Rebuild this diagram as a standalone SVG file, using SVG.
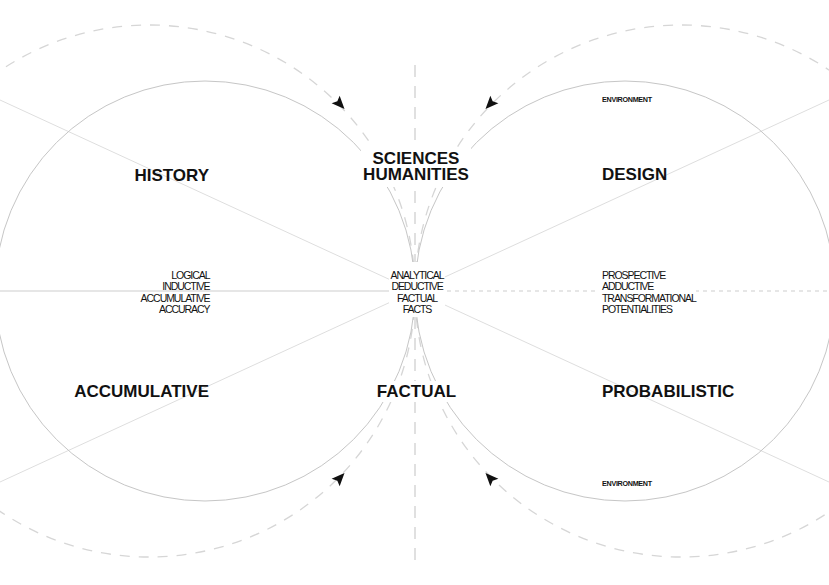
<svg xmlns="http://www.w3.org/2000/svg" width="829" height="585" viewBox="0 0 829 585">
<style>
text{font-family:"Liberation Sans",Arial,Helvetica,sans-serif;fill:#111}
.big{font-size:17px;font-weight:bold}
.small{font-size:10.5px;letter-spacing:-1.05px}
.env{font-size:7.2px;font-weight:bold;letter-spacing:-0.3px}
.solid{fill:none;stroke:#c6c6c6;stroke-width:1}
.diag{fill:none;stroke:#dedede;stroke-width:1}
.hline{fill:none;stroke:#cdcdcd;stroke-width:1.2}
.hdash{fill:none;stroke:#cdcdcd;stroke-width:1.2;stroke-dasharray:4 4}
.dcirc{fill:none;stroke:#d6d6d6;stroke-width:1.3;stroke-dasharray:10 9}
.vdash{fill:none;stroke:#d6d6d6;stroke-width:1.5;stroke-dasharray:12 9}
.mask{fill:#fff}
.arrow{fill:#111}
</style>
<defs>
<path id="arrowhead" d="M0,0 L-13,-5.5 L-10.5,0 L-13,5.5 Z"/>
</defs>
<rect width="829" height="585" fill="#fff"/>
<g id="connectors">
<line class="diag" x1="0" y1="100" x2="829" y2="482"/>
<line class="diag" x1="0" y1="482" x2="829" y2="100"/>
<line class="hline" x1="0" y1="291" x2="415" y2="291"/>
<line class="hdash" x1="415" y1="291" x2="829" y2="291"/>
<circle class="dcirc" cx="149" cy="291" r="266"/>
<circle class="dcirc" cx="681" cy="291" r="266"/>
<line class="vdash" x1="415" y1="65" x2="415" y2="563"/>
<use href="#arrowhead" class="arrow" transform="translate(344.5,109) rotate(47)"/>
<use href="#arrowhead" class="arrow" transform="translate(485.5,109) rotate(133)"/>
<use href="#arrowhead" class="arrow" transform="translate(344.5,473) rotate(-47)"/>
<use href="#arrowhead" class="arrow" transform="translate(485.5,473) rotate(-133)"/>
</g>
<g id="circle-left"><circle class="solid" cx="205" cy="291" r="210"/></g>
<g id="circle-right"><circle class="solid" cx="625" cy="291" r="210"/></g>
<g id="node-history"><text class="big" x="209" y="181" text-anchor="end">HISTORY</text></g>
<g id="node-accumulative"><text class="big" x="209" y="397" text-anchor="end">ACCUMULATIVE</text></g>
<g id="node-sciences-humanities">
<rect class="mask" x="361" y="147" width="110" height="40"/>
<text class="big" x="416" y="163.5" text-anchor="middle">SCIENCES</text>
<text class="big" x="416" y="180" text-anchor="middle">HUMANITIES</text>
</g>
<g id="node-factual">
<rect class="mask" x="373" y="381" width="87" height="21"/>
<text class="big" x="416.5" y="397" text-anchor="middle">FACTUAL</text>
</g>
<g id="node-design"><text class="big" x="602" y="180">DESIGN</text></g>
<g id="node-probabilistic"><text class="big" x="602" y="397">PROBABILISTIC</text></g>
<g id="node-environment-top"><text class="env" x="602" y="101.5">ENVIRONMENT</text></g>
<g id="node-environment-bottom"><text class="env" x="602" y="486">ENVIRONMENT</text></g>
<g id="node-left-traits">
<text class="small" x="209.5" y="278.5" text-anchor="end">LOGICAL</text>
<text class="small" x="209.5" y="290" text-anchor="end">INDUCTIVE</text>
<text class="small" x="209.5" y="301.5" text-anchor="end">ACCUMULATIVE</text>
<text class="small" x="209.5" y="313" text-anchor="end">ACCURACY</text>
</g>
<g id="node-center-traits">
<rect class="mask" x="389" y="262" width="56" height="55"/>
<text class="small" x="417" y="278.5" text-anchor="middle">ANALYTICAL</text>
<text class="small" x="417" y="290" text-anchor="middle">DEDUCTIVE</text>
<text class="small" x="417" y="301.5" text-anchor="middle">FACTUAL</text>
<text class="small" x="417" y="313" text-anchor="middle">FACTS</text>
</g>
<g id="node-right-traits">
<rect class="mask" x="599" y="266" width="97" height="50"/>
<text class="small" x="602" y="278.5">PROSPECTIVE</text>
<text class="small" x="602" y="290">ADDUCTIVE</text>
<text class="small" x="602" y="301.5">TRANSFORMATIONAL</text>
<text class="small" x="602" y="313">POTENTIALITIES</text>
</g>
</svg>
